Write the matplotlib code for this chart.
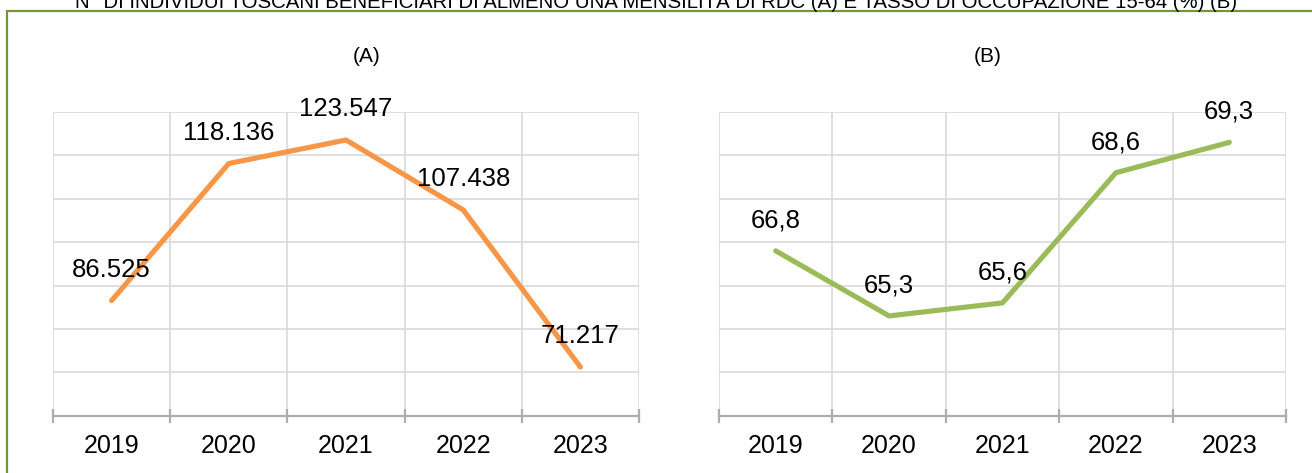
import matplotlib
matplotlib.use("Agg")
import matplotlib.pyplot as plt
from matplotlib.patches import Rectangle

plt.rcParams['font.family'] = ['Liberation Sans', 'DejaVu Sans']

# dati
anni = ['2019', '2020', '2021', '2022', '2023']
beneficiari_rdc = [86525, 118136, 123547, 107438, 71217]
tasso_occupazione = [66.8, 65.3, 65.6, 68.6, 69.3]

titolo = "N° DI INDIVIDUI TOSCANI BENEFICIARI DI ALMENO UNA MENSILITÀ DI RDC (A) E TASSO DI OCCUPAZIONE 15-64 (%) (B)"

W, H = 1312, 473
fig = plt.figure(figsize=(W / 100, H / 100), dpi=100)

# cornice verde
fig.patches.append(Rectangle((7 / W, -0.1), 1.2, 1 - 11 / H + 0.1, transform=fig.transFigure,
                             fill=False, edgecolor='#77933C', linewidth=1.6, clip_on=False))
# titolo tagliato in alto come nell'originale
fig.text(0.5, 1 - 8 / H, titolo, ha='center', va='baseline', fontsize=14.7, color='black')


def fmt_it(v):
    return '{:,}'.format(v).replace(',', '.')


def draw(ax, vals, color, ylim, step, labels):
    x = list(range(len(vals)))
    ax.plot(x, vals, color=color, linewidth=3.7, solid_capstyle='round', zorder=3)
    for xi, v, lab in zip(x, vals, labels):
        ax.annotate(lab, (xi, v), xytext=(0, 22), textcoords='offset points',
                    ha='center', va='center', fontsize=18.5, zorder=4)
    ax.set_xlim(-0.5, len(vals) - 0.5)
    ax.set_ylim(*ylim)
    yt = []
    y = ylim[0]
    while y <= ylim[1] + 1e-9:
        yt.append(y)
        y += step
    ax.set_yticks(yt)
    ax.tick_params(axis='y', left=False, labelleft=False)
    ax.set_xticks(x)
    ax.set_xticklabels(anni, fontsize=18)
    ax.tick_params(axis='x', which='major', length=0, pad=13)
    ax.set_xticks([i - 0.5 for i in range(len(vals) + 1)], minor=True)
    ax.tick_params(axis='x', which='minor', direction='inout', length=10, width=1.6, color='#ADADAD')
    ax.grid(axis='y', color='#D9D9D9', linewidth=1.2)
    ax.grid(axis='x', which='minor', color='#D9D9D9', linewidth=1.2)
    ax.set_axisbelow(True)
    for s in ['top', 'right', 'left']:
        ax.spines[s].set_visible(False)
    ax.spines['bottom'].set_color('#ADADAD')
    ax.spines['bottom'].set_linewidth(1.6)


bottom = 1 - 415.7 / H
height = (415.7 - 112) / H
ax1 = fig.add_axes([53 / W, bottom, 586 / W, height])
draw(ax1, beneficiari_rdc, '#F79646', (60000, 130000), 10000, [fmt_it(v) for v in beneficiari_rdc])

ax2 = fig.add_axes([719 / W, bottom, 567 / W, height])
draw(ax2, tasso_occupazione, '#9BBB59', (63, 70), 1, [str(v).replace('.', ',') for v in tasso_occupazione])

fig.text(367 / W, 1 - 57 / H, '(A)', ha='center', va='center', fontsize=15)
fig.text(988 / W, 1 - 57 / H, '(B)', ha='center', va='center', fontsize=15)

fig.savefig('out.png', dpi=100)
